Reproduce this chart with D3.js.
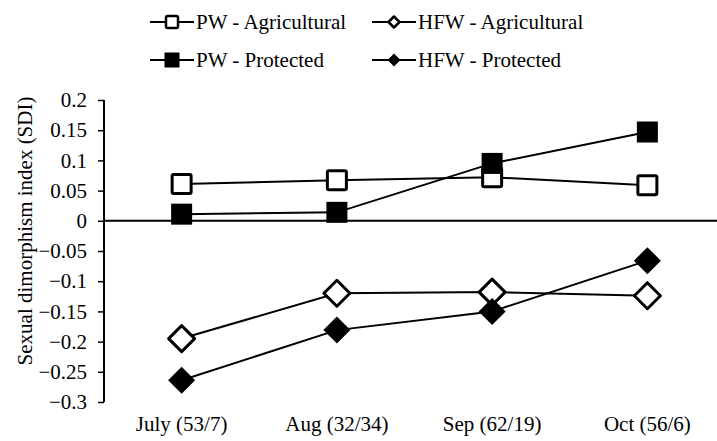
<!DOCTYPE html>
<html>
<head>
<meta charset="utf-8">
<script src="https://cdn.jsdelivr.net/npm/d3@7"></script>
<style>
  body { margin: 0; background: #fff; font-family: "Liberation Serif"; }
  svg text { font-family: "Liberation Serif" !important; }
</style>
</head>
<body>
<div id="chart"></div>
<script>
// Datos
const meses = ["July (53/7)", "Aug (32/34)", "Sep (62/19)", "Oct (56/6)"]
const pwAgricultural = [0.061, 0.067, 0.072, 0.059]
const pwProtected = [0.011, 0.014, 0.095, 0.147]
const hfwAgricultural = [-0.195, -0.12, -0.118, -0.124]
const hfwProtected = [-0.264, -0.181, -0.15, -0.066]
const yTicks = [0.2, 0.15, 0.1, 0.05, 0, -0.05, -0.1, -0.15, -0.2, -0.25, -0.3]

const series = [
  { nombre: "PW - Agricultural", valores: pwAgricultural, forma: "square", lleno: false },
  { nombre: "HFW - Agricultural", valores: hfwAgricultural, forma: "diamond", lleno: false },
  { nombre: "PW - Protected", valores: pwProtected, forma: "square", lleno: true },
  { nombre: "HFW - Protected", valores: hfwProtected, forma: "diamond", lleno: true },
]

const fuente = "Liberation Serif"

// Dimensiones
const anchoTotal = 717
const altoTotal = 441
const margins = { top: 100, right: -8, bottom: 39, left: 104 }
const ancho = anchoTotal - margins.left - margins.right
const alto = altoTotal - margins.top - margins.bottom

const svg = d3.select("#chart").append("svg")
  .attr("width", anchoTotal)
  .attr("height", altoTotal)
  .style("display", "block")

const g = svg.append("g")
  .attr("transform", `translate(${margins.left}, ${margins.top})`)

// Escaladores
const x = d3.scaleBand().domain(meses).range([0, ancho])
const y = d3.scaleLinear().domain([-0.3, 0.2]).range([alto, 0])

// Eje Y
const yAxis = d3.axisLeft(y)
  .tickValues(yTicks)
  .tickFormat((d) => d3.format("")(+d.toFixed(2)))
  .tickSize(6)
  .tickPadding(11)
const yAxisGroup = g.append("g").call(yAxis)
yAxisGroup.attr("font-family", null).attr("font-size", 21)
yAxisGroup.select(".domain").attr("stroke", "#000").attr("stroke-width", 2).attr("d", `M0,${y(0.2)}V${y(-0.3)}`)
yAxisGroup.selectAll(".tick line").attr("stroke", "#000").attr("stroke-width", 1.5)
yAxisGroup.selectAll("text")
  .attr("fill", "#000")
  .style("font-family", fuente)
  .style("font-size", "21px")

// Linea de cero
g.append("line")
  .attr("x1", 0).attr("x2", ancho)
  .attr("y1", y(0)).attr("y2", y(0))
  .attr("stroke", "#000").attr("stroke-width", 2)

// Etiquetas X
g.selectAll(".mes").data(meses).join("text")
  .attr("class", "mes")
  .attr("x", (d) => x(d) + x.bandwidth() / 2)
  .attr("y", alto + 29)
  .attr("text-anchor", "middle")
  .style("font-family", fuente)
  .style("font-size", "21px")
  .text((d) => d)

// Titulo eje Y
svg.append("text")
  .attr("transform", `translate(32, 231) rotate(-90)`)
  .attr("text-anchor", "middle")
  .style("font-family", fuente)
  .style("font-size", "21px")
  .text("Sexual dimorphism index (SDI)")

// Marcadores
const dibujarMarcador = (sel, s, cx, cy, t) => {
  if (s.forma === "square") {
    const lado = s.lleno ? t.lleno : t.hueco
    sel.append("rect")
      .attr("x", cx - lado / 2).attr("y", cy - lado / 2)
      .attr("width", lado).attr("height", lado)
      .attr("rx", s.lleno ? 0 : 1.5)
      .attr("fill", s.lleno ? "#000" : "#fff")
      .attr("stroke", "#000")
      .attr("stroke-width", s.lleno ? 0 : t.trazo)
  } else {
    const r = s.lleno ? t.rLleno : t.rHueco
    sel.append("path")
      .attr("d", `M${cx},${cy - r}L${cx + r},${cy}L${cx},${cy + r}L${cx - r},${cy}Z`)
      .attr("fill", s.lleno ? "#000" : "#fff")
      .attr("stroke", "#000")
      .attr("stroke-width", s.lleno ? 0 : t.trazo)
      .attr("stroke-linejoin", "round")
  }
}
const tamGrafico = { lleno: 21, hueco: 19, rLleno: 13.5, rHueco: 13, trazo: 3 }
const tamLeyenda = { lleno: 15, hueco: 12, rLleno: 6.5, rHueco: 5.5, trazo: 2.5 }

const linea = d3.line()
  .x((d, i) => x(meses[i]) + x.bandwidth() / 2)
  .y((d) => y(d))

series.forEach((s) => {
  g.append("path")
    .datum(s.valores)
    .attr("d", linea)
    .attr("fill", "none")
    .attr("stroke", "#000")
    .attr("stroke-width", 2)
})
series.forEach((s) => {
  const gm = g.append("g")
  s.valores.forEach((v, i) => {
    dibujarMarcador(gm, s, x(meses[i]) + x.bandwidth() / 2, y(v), tamGrafico)
  })
})

// Leyenda
const posLeyenda = [[150, 22], [372, 22], [150, 60], [372, 60]]
series.forEach((s, i) => {
  const [lx, ly] = posLeyenda[i]
  const gl = svg.append("g")
  gl.append("line")
    .attr("x1", lx).attr("x2", lx + 44)
    .attr("y1", ly).attr("y2", ly)
    .attr("stroke", "#000").attr("stroke-width", 2)
  dibujarMarcador(gl, s, lx + 22, ly, tamLeyenda)
  gl.append("text")
    .attr("x", lx + 46).attr("y", ly + 7)
    .style("font-family", fuente)
    .style("font-size", "21px")
    .text(s.nombre)
})
</script>
</body>
</html>
